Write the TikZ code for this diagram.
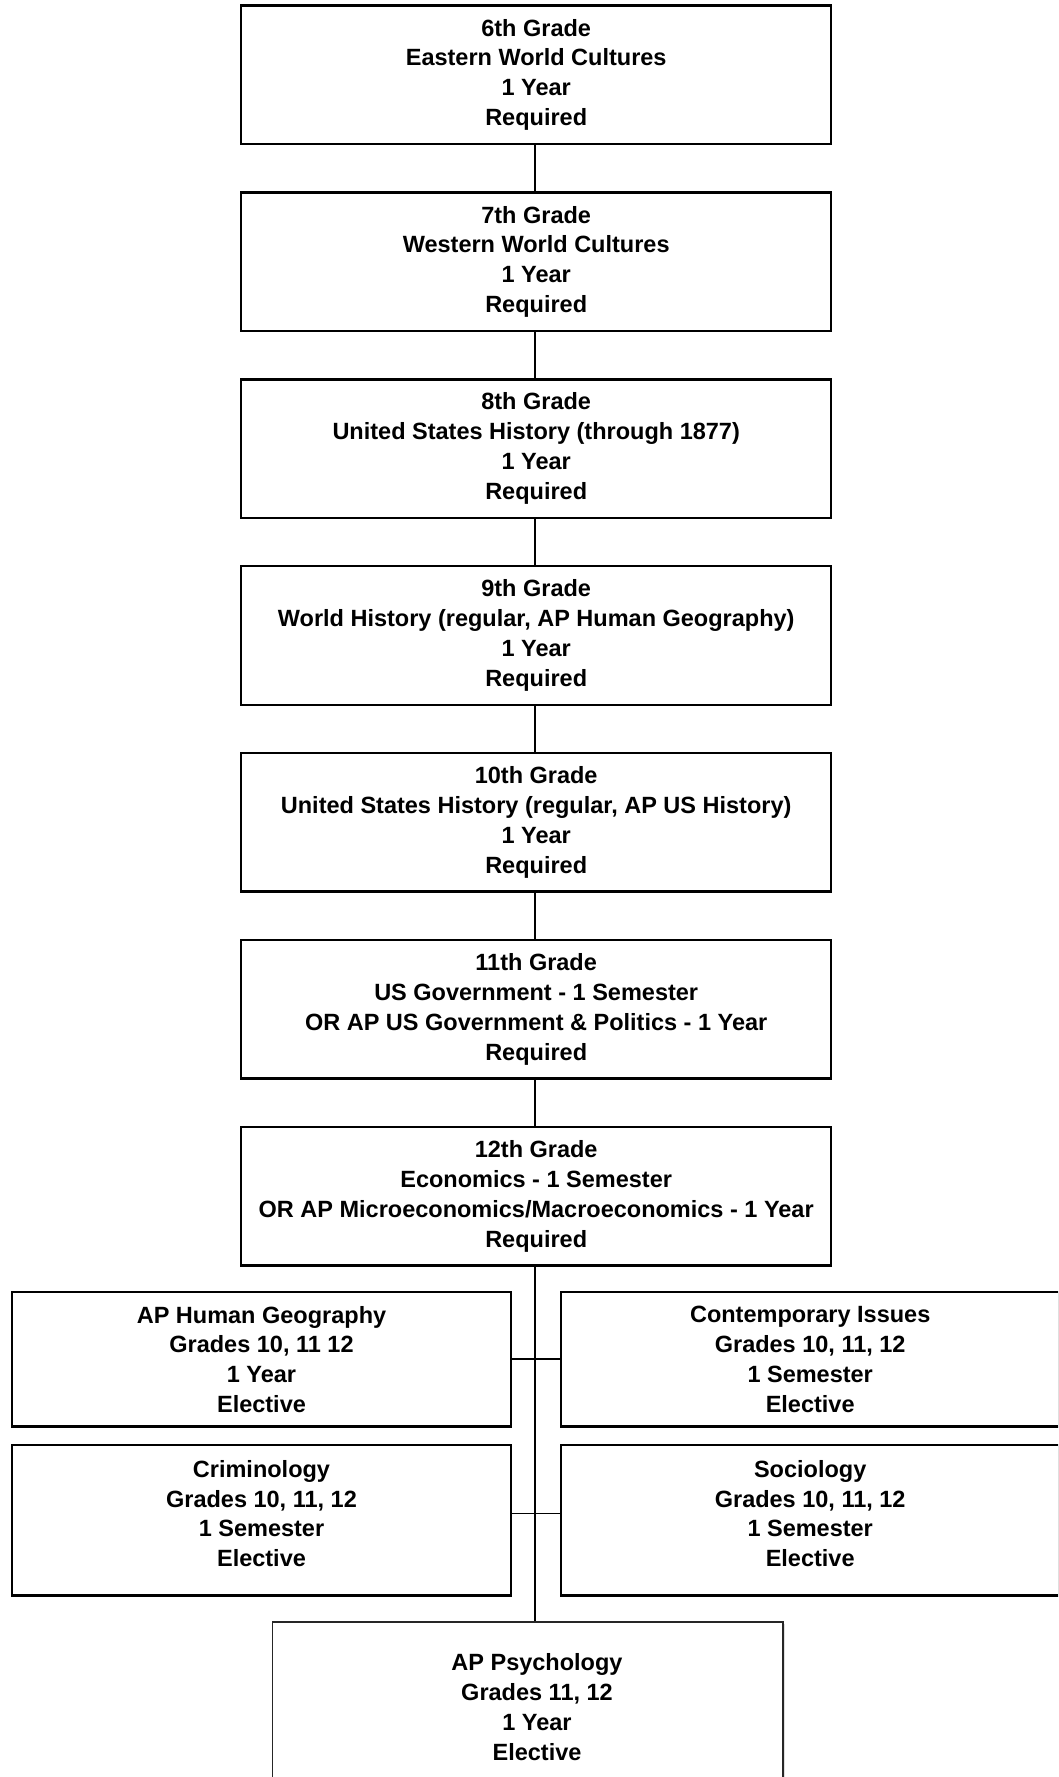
\documentclass[tikz,border=0pt]{standalone}
\usepackage{fontspec}
\setmainfont{Liberation Sans}
\usetikzlibrary{shadows}
\begin{document}
\begin{tikzpicture}[x=1pt,y=-1pt,
  txt/.style={align=center, font=\bfseries\fontsize{23.5}{29.8}\selectfont, inner sep=0pt, text=black},
  box/.style={txt, draw=black, line width=2.4pt, fill=white, rectangle, minimum width=590pt, minimum height=138.5pt},
  ebox/.style={draw=black, line width=2.4pt, fill=white, rectangle, minimum width=498.6pt, minimum height=134.7pt, inner sep=0pt},
  conn/.style={draw=black, line width=1.8pt}
]
\useasboundingbox (0,0) rectangle (1058,1777);
\clip (0,0) rectangle (1058,1777);
\fill[white] (0,0) rectangle (1058,1777);

\node[box] (g6)  at (536.2,74.8)  {6th Grade\\Eastern World Cultures\\1 Year\\Required};
\node[box] (g7)  at (536.2,261.7) {7th Grade\\Western World Cultures\\1 Year\\Required};
\node[box] (g8)  at (536.2,448.6) {8th Grade\\United States History (through 1877)\\1 Year\\Required};
\node[box] (g9)  at (536.2,635.5) {9th Grade\\World History (regular, AP Human Geography)\\1 Year\\Required};
\node[box] (g10) at (536.2,822.4) {10th Grade\\United States History (regular, AP US History)\\1 Year\\Required};
\node[box] (g11) at (536.2,1009.3) {11th Grade\\US Government - 1 Semester\\OR AP US Government \& Politics - 1 Year\\Required};
\node[box] (g12) at (536.2,1196.3) {12th Grade\\Economics - 1 Semester\\OR AP Microeconomics/Macroeconomics - 1 Year\\Required};

\coordinate (trunk) at (535,0);
\draw[conn] (g6.south -| trunk) -- (g7.north -| trunk);
\draw[conn] (g7.south -| trunk) -- (g8.north -| trunk);
\draw[conn] (g8.south -| trunk) -- (g9.north -| trunk);
\draw[conn] (g9.south -| trunk) -- (g10.north -| trunk);
\draw[conn] (g10.south -| trunk) -- (g11.north -| trunk);
\draw[conn] (g11.south -| trunk) -- (g12.north -| trunk);

% electives
\node[ebox, txt] (ahg) at (261.5,1359.3) {AP Human Geography\\Grades 10, 11 12\\1 Year\\Elective};
\node[ebox, txt] (ci)  at (810.2,1359.3) {Contemporary Issues\\Grades 10, 11, 12\\1 Semester\\Elective};
\node[ebox, minimum height=150.5pt] (crim) at (261.5,1520.2) {};
\node[ebox, minimum height=150.5pt] (soc)  at (810.2,1520.2) {};
\node[txt] (crimt) at (261.5,1513.5) {Criminology\\Grades 10, 11, 12\\1 Semester\\Elective};
\node[txt] (soct)  at (810.2,1513.5) {Sociology\\Grades 10, 11, 12\\1 Semester\\Elective};

% AP Psychology
\node[draw=black!85, line width=1.8pt, fill=white, rectangle, minimum width=510.5pt, minimum height=220pt, inner sep=0pt,
      drop shadow={shadow xshift=1.5pt, shadow yshift=-1.5pt, opacity=0.25}] (psy) at (527.8,1732.3) {};
\node[txt] (psyt) at (537,1707) {AP Psychology\\Grades 11, 12\\1 Year\\Elective};

% trunk and branches
\draw[conn] (g12.south -| trunk) -- (psy.north -| trunk);
\draw[conn] (ahg.east) -- (ci.west);
\draw[conn] (crim.east |- crimt.center) -- (soc.west |- crimt.center);
\end{tikzpicture}
\end{document}
